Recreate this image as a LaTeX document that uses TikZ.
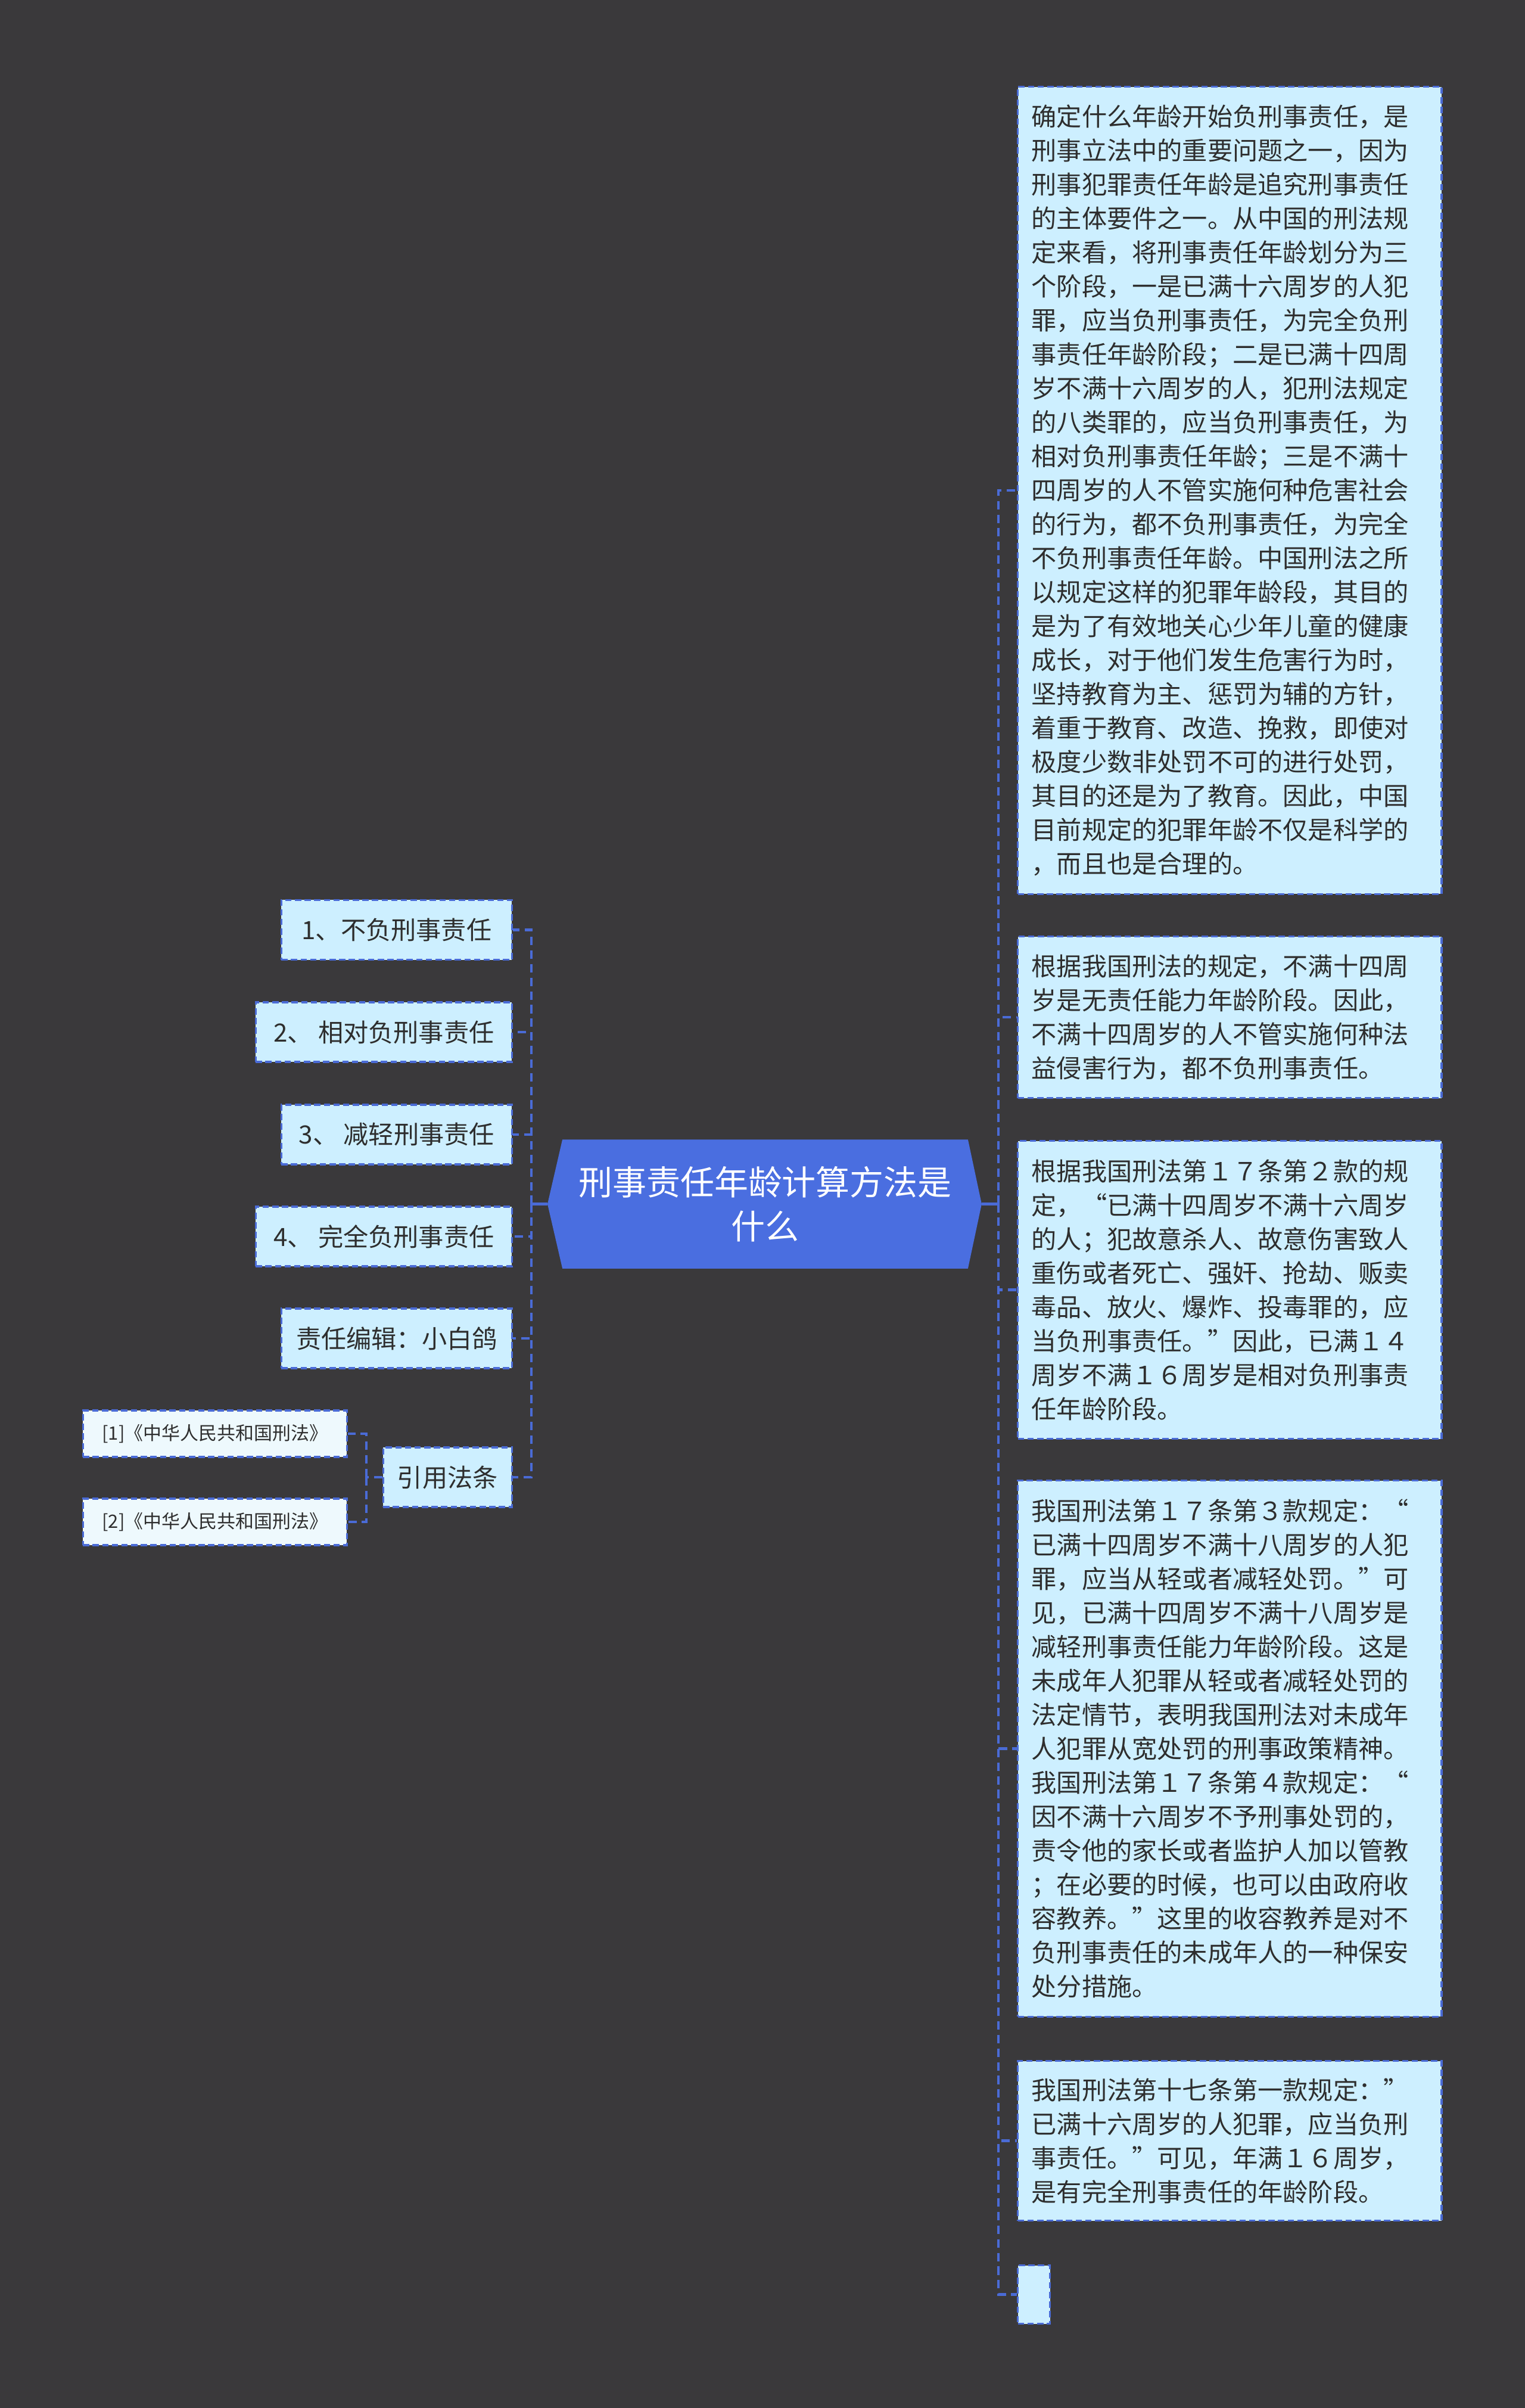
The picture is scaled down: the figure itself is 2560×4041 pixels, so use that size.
\documentclass[tikz,border=0pt]{standalone}
\usepackage{fontspec}
\setmainfont{Noto Sans CJK SC}
\usetikzlibrary{backgrounds}

\definecolor{bggray}{HTML}{3A393B}
\definecolor{rootblue}{HTML}{4A6EE0}
\definecolor{linkblue}{HTML}{4A6BD6}
\definecolor{boxfill}{HTML}{CDEFFF}
\definecolor{subfill}{HTML}{EEF9FD}
\definecolor{textgray}{HTML}{2E2E2E}

\begin{document}
\begin{tikzpicture}[x=0.01cm, y=-0.01cm,
  box/.style={draw=linkblue, line width=0.9pt, dash pattern=on 3pt off 1.6pt,
    fill=boxfill, text=textgray, inner sep=0pt,
    font=\fontsize{12pt}{16.2pt}\selectfont},
  rbox/.style={box, anchor=north west, minimum width=7.11cm, text width=6.65cm,
    inner xsep=0.23cm, align=left},
  lbox/.style={box, anchor=east, minimum height=1cm},
  subbox/.style={box, fill=subfill, anchor=east, minimum width=4.43cm,
    minimum height=0.78cm, font=\fontsize{8.8pt}{11pt}\selectfont},
  root/.style={text=white, inner sep=0pt, align=center,
    minimum width=6.79cm, minimum height=2.15cm,
    font=\fontsize{16.2pt}{21pt}\selectfont},
  link/.style={draw=linkblue, line width=1.3pt, dash pattern=on 4pt off 2.5pt},
  stub/.style={draw=linkblue, line width=1.5pt}]
  \def \lhubx {892}
  \def \rhubx {1676}
  \def \subhubx {615}

  \begin{pgfonlayer}{background}
    \fill[bggray] (0,0) rectangle (2560,4041);
  \end{pgfonlayer}
  \useasboundingbox (0,0) rectangle (2560,4041);

  % centre
  \node[root] (root) at (1284.5,2020.5) {刑事责任年龄计算方法是\\什么};
  \coordinate (rootw) at ([xshift=-0.25cm]root.west);
  \coordinate (roote) at ([xshift=0.23cm]root.east);
  \begin{pgfonlayer}{background}
    \fill[rootblue] (rootw) -- (root.north west) -- (root.north east)
      -- (roote) -- (root.south east) -- (root.south west) -- cycle;
  \end{pgfonlayer}
  \coordinate (lhub) at (\lhubx,2020.5);
  \coordinate (rhub) at (\rhubx,2020.5);

  % right side
  \node[rbox, minimum height=13.54cm] (r1) at (1707,144) {%
    确定什么年龄开始负刑事责任，是\\
    刑事立法中的重要问题之一，因为\\
    刑事犯罪责任年龄是追究刑事责任\\
    的主体要件之一。从中国的刑法规\\
    定来看，将刑事责任年龄划分为三\\
    个阶段，一是已满十六周岁的人犯\\
    罪，应当负刑事责任，为完全负刑\\
    事责任年龄阶段；二是已满十四周\\
    岁不满十六周岁的人，犯刑法规定\\
    的八类罪的，应当负刑事责任，为\\
    相对负刑事责任年龄；三是不满十\\
    四周岁的人不管实施何种危害社会\\
    的行为，都不负刑事责任，为完全\\
    不负刑事责任年龄。中国刑法之所\\
    以规定这样的犯罪年龄段，其目的\\
    是为了有效地关心少年儿童的健康\\
    成长，对于他们发生危害行为时，\\
    坚持教育为主、惩罚为辅的方针，\\
    着重于教育、改造、挽救，即使对\\
    极度少数非处罚不可的进行处罚，\\
    其目的还是为了教育。因此，中国\\
    目前规定的犯罪年龄不仅是科学的\\
    ，而且也是合理的。};
  \node[rbox, minimum height=2.71cm] (r2) at (1707,1570) {%
    根据我国刑法的规定，不满十四周\\
    岁是无责任能力年龄阶段。因此，\\
    不满十四周岁的人不管实施何种法\\
    益侵害行为，都不负刑事责任。};
  \node[rbox, minimum height=5.00cm] (r3) at (1707,1913) {%
    根据我国刑法第１７条第２款的规\\
    定，“已满十四周岁不满十六周岁\\
    的人；犯故意杀人、故意伤害致人\\
    重伤或者死亡、强奸、抢劫、贩卖\\
    毒品、放火、爆炸、投毒罪的，应\\
    当负刑事责任。”因此，已满１４\\
    周岁不满１６周岁是相对负刑事责\\
    任年龄阶段。};
  \node[rbox, minimum height=8.99cm] (r4) at (1707,2483) {%
    我国刑法第１７条第３款规定：“\\
    已满十四周岁不满十八周岁的人犯\\
    罪，应当从轻或者减轻处罚。”可\\
    见，已满十四周岁不满十八周岁是\\
    减轻刑事责任能力年龄阶段。这是\\
    未成年人犯罪从轻或者减轻处罚的\\
    法定情节，表明我国刑法对未成年\\
    人犯罪从宽处罚的刑事政策精神。\\
    我国刑法第１７条第４款规定：“\\
    因不满十六周岁不予刑事处罚的，\\
    责令他的家长或者监护人加以管教\\
    ；在必要的时候，也可以由政府收\\
    容教养。”这里的收容教养是对不\\
    负刑事责任的未成年人的一种保安\\
    处分措施。};
  \node[rbox, minimum height=2.68cm] (r5) at (1707,3457) {%
    我国刑法第十七条第一款规定：”\\
    已满十六周岁的人犯罪，应当负刑\\
    事责任。”可见，年满１６周岁，\\
    是有完全刑事责任的年龄阶段。};
  \node[box, anchor=north west, minimum width=0.54cm, minimum height=0.98cm]
    (r6) at (1707,3800) {};

  \draw[stub] (roote) -- (rhub);
  \foreach \n in {r1,r2,r3,r4,r5,r6}{
    \draw[link] (rhub) |- (\n.west);
  }

  % left side
  \node[lbox, minimum width=3.87cm] (l1) at (861,1560.5) {1、不负刑事责任};
  \node[lbox, minimum width=4.30cm] (l2) at (861,1732) {2、 相对负刑事责任};
  \node[lbox, minimum width=3.87cm] (l3) at (861,1904) {3、 减轻刑事责任};
  \node[lbox, minimum width=4.30cm] (l4) at (861,2075) {4、 完全负刑事责任};
  \node[lbox, minimum width=3.87cm] (l5) at (861,2246) {责任编辑：小白鸽};
  \node[lbox, minimum width=2.16cm] (l6) at (861,2479) {引用法条};

  \draw[stub] (rootw) -- (lhub);
  \foreach \n in {l1,l2,l3,l4,l5,l6}{
    \draw[link] (lhub) |- (\n.east);
  }

  \node[subbox] (s1) at (584,2406) {[1]《中华人民共和国刑法》};
  \node[subbox] (s2) at (584,2554) {[2]《中华人民共和国刑法》};
  \coordinate (subhub) at (\subhubx,2479);
  \draw[link] (l6.west) -- (subhub);
  \foreach \n in {s1,s2}{
    \draw[link] (subhub) |- (\n.east);
  }
\end{tikzpicture}
\end{document}
